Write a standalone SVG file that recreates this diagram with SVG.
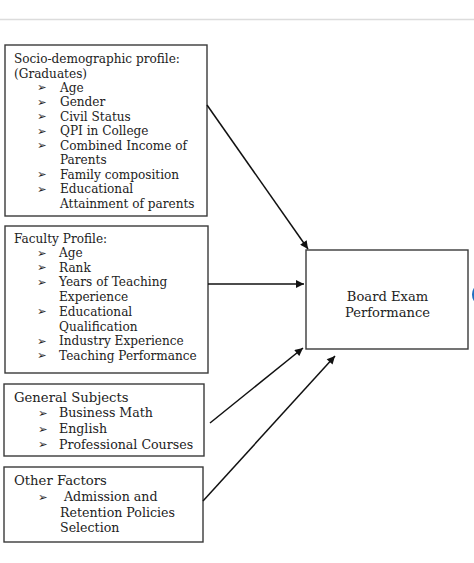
<svg xmlns="http://www.w3.org/2000/svg" width="474" height="563" viewBox="0 0 474 563">
<defs>
<marker id="ah" viewBox="0 0 10 10" refX="10" refY="5" markerWidth="9" markerHeight="8" markerUnits="userSpaceOnUse" orient="auto">
<path d="M0,0 L10,5 L0,10 z" fill="#111"/>
</marker>
</defs>
<style>
.box{fill:#fff;stroke:#3a3a3a;stroke-width:1.4}
.t{font-family:"DejaVu Serif","Liberation Serif",serif;font-size:12.1px;fill:#222}
.h{font-family:"DejaVu Serif","Liberation Serif",serif;font-size:13.2px;fill:#222}
.m{font-family:"DejaVu Serif","Liberation Serif",serif;font-size:12.6px;fill:#222}
.n{font-family:"DejaVu Serif","Liberation Serif",serif;font-size:13.1px;fill:#222}
.b{font-family:"DejaVu Sans","Noto Sans",sans-serif;font-size:11.5px;font-weight:bold;fill:#222}
.c{stroke:#111;stroke-width:1.5;fill:none;marker-end:url(#ah)}
</style>
<rect width="474" height="563" fill="#fff"/>
<line x1="0" y1="19.5" x2="474" y2="19.5" stroke="#dcdcdc" stroke-width="1.5"/>
<ellipse cx="477" cy="294.5" rx="5" ry="8" fill="#1f6fc0"/>

<g id="socio">
<rect class="box" x="5" y="45" width="202" height="171"/>
<text class="t" x="14" y="63">Socio-demographic profile:</text>
<text class="t" x="14" y="77.5">(Graduates)</text>
<g class="b"><text x="37" y="91">➢</text><text x="37" y="105.5">➢</text><text x="37" y="120">➢</text><text x="37" y="134.5">➢</text><text x="37" y="149">➢</text><text x="37" y="178">➢</text><text x="37" y="192.5">➢</text></g>
<text class="t" x="60" y="91.5">Age</text>
<text class="t" x="60" y="106">Gender</text>
<text class="t" x="60" y="120.5">Civil Status</text>
<text class="t" x="60" y="135">QPI in College</text>
<text class="t" x="60" y="149.5">Combined Income of</text>
<text class="t" x="60" y="164">Parents</text>
<text class="t" x="60" y="178.5">Family composition</text>
<text class="t" x="60" y="193">Educational</text>
<text class="t" x="60" y="207.5">Attainment of parents</text>
</g>

<g id="faculty">
<rect class="box" x="5" y="226" width="203" height="147"/>
<text class="t" x="14" y="242.5">Faculty Profile:</text>
<g class="b"><text x="37" y="256.5">➢</text><text x="37" y="271">➢</text><text x="37" y="285.5">➢</text><text x="37" y="315">➢</text><text x="37" y="344.5">➢</text><text x="37" y="359">➢</text></g>
<text class="t" x="59" y="257">Age</text>
<text class="t" x="59" y="271.5">Rank</text>
<text class="t" x="59" y="286">Years of Teaching</text>
<text class="t" x="59" y="301">Experience</text>
<text class="t" x="59" y="315.5">Educational</text>
<text class="t" x="59" y="330.5">Qualification</text>
<text class="t" x="59" y="345">Industry Experience</text>
<text class="t" x="59" y="359.5">Teaching Performance</text>
</g>

<g id="general">
<rect class="box" x="4" y="384" width="200" height="72"/>
<text class="h" x="14" y="402">General Subjects</text>
<g class="b"><text x="38" y="416.5">➢</text><text x="38" y="432.5">➢</text><text x="38" y="448">➢</text></g>
<text class="m" x="59" y="417">Business Math</text>
<text class="m" x="59" y="433">English</text>
<text class="m" x="59" y="448.5">Professional Courses</text>
</g>

<g id="other">
<rect class="box" x="4" y="467" width="199" height="75"/>
<text class="h" x="14" y="485">Other Factors</text>
<text class="b" x="38" y="500.5">➢</text>
<text class="m" x="64" y="501">Admission and</text>
<text class="m" x="60" y="516.5">Retention Policies</text>
<text class="m" x="60" y="531.5">Selection</text>
</g>

<g id="board">
<rect class="box" x="306" y="250" width="162" height="99"/>
<text class="n" x="387.5" y="300.5" text-anchor="middle">Board Exam</text>
<text class="n" x="387.5" y="316.5" text-anchor="middle">Performance</text>
</g>

<g id="connectors">
<line class="c" x1="207" y1="105" x2="308" y2="249"/>
<line class="c" x1="208" y1="284" x2="304" y2="284"/>
<line class="c" x1="210" y1="423" x2="303" y2="348"/>
<line class="c" x1="203" y1="501" x2="335" y2="356"/>
</g>
</svg>
